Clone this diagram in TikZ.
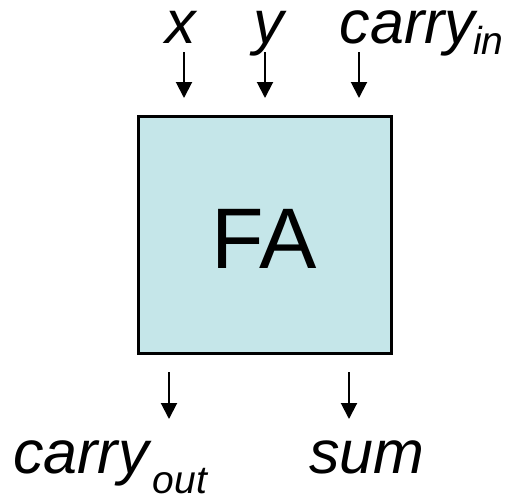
\documentclass[tikz,border=0pt]{standalone}
\usepackage{fontspec}
\setmainfont{Liberation Sans}
\usetikzlibrary{arrows.meta,positioning}
\definecolor{facyan}{RGB}{197,230,233}
% lowered, smaller index after a signal name
\newcommand{\sigsub}[3]{\kern#2\raisebox{-#1}{\fontsize{39}{40}\selectfont #3}}

\begin{document}
\begin{tikzpicture}[x=1pt, y=-1pt,
    blk/.style={draw, line width=3pt, fill=facyan, inner sep=0pt,
                minimum width=253pt, minimum height=237pt, text height=67.5pt,
                font=\fontsize{86}{90}\selectfont},
    sig/.style={inner sep=0pt, text height=0.68em,
                font=\fontsize{61}{62}\selectfont\itshape},
    ar/.style={-{Triangle[width=16pt, length=16pt]}, line width=2pt}
  ]
  \useasboundingbox (0,0) rectangle (516,496);

  \node[blk] (fa) at (264.5,235) {FA};

  % inputs
  \node[sig, anchor=base] (x) at (181,43) {x};
  \node[sig, anchor=base] (y) at (269,43) {y};
  \node[sig, anchor=base west] (cin) at (339.5,43) {carry\sigsub{11pt}{-2pt}{in}};

  \coordinate (x0) at (184,52);   \coordinate (x1) at (184,98);
  \coordinate (y0) at (265,52);   \coordinate (y1) at (265,98);
  \coordinate (c0) at (359,52);   \coordinate (c1) at (359,98);

  \draw[ar] (x0) -- (x1);
  \draw[ar] (y0) -- (y1);
  \draw[ar] (c0) -- (c1);

  % outputs
  \coordinate (co0) at (169,372); \coordinate (co1) at (169,419);
  \coordinate (s0) at (349,372);  \coordinate (s1) at (349,419);

  \draw[ar] (co0) -- (co1);
  \draw[ar] (s0) -- (s1);

  \node[sig, anchor=base west] (cout) at (13,473) {carry\sigsub{20pt}{4pt}{out}};
  \node[sig, anchor=base west] (sum) at (309,473) {sum};
\end{tikzpicture}
\end{document}
